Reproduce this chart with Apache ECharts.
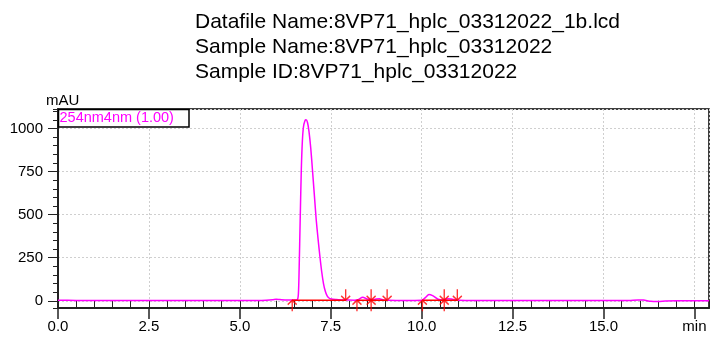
<!DOCTYPE html>
<html><head><meta charset="utf-8">
<script src="https://cdn.jsdelivr.net/npm/echarts@6/dist/echarts.min.js"></script>
<style>html,body{margin:0;padding:0;background:#fff}#c{width:714px;height:337px}</style>
</head><body><div id="c"></div>
<script>
const titleLines = ['Datafile Name:8VP71_hplc_03312022_1b.lcd', 'Sample Name:8VP71_hplc_03312022', 'Sample ID:8VP71_hplc_03312022'];
const seriesName = '254nm4nm (1.00)';
const yAxisName = 'mAU';
const timeMin = [0.0, 0.5, 1.0, 1.5, 2.0, 3.0, 4.0, 5.0, 5.6, 5.9, 6.0, 6.1, 6.3, 6.5, 6.58, 6.61, 6.63, 6.66, 6.69, 6.72, 6.75, 6.79, 6.82, 6.86, 6.90, 6.95, 7.00, 7.05, 7.10, 7.15, 7.20, 7.25, 7.30, 7.35, 7.40, 7.45, 7.52, 7.65, 7.8, 7.95, 8.15, 8.25, 8.38, 8.5, 8.62, 8.72, 8.84, 8.95, 9.1, 9.5, 10.0, 10.1, 10.2, 10.3, 10.45, 10.6, 10.72, 10.82, 10.95, 11.2, 12.0, 13.0, 14.0, 15.0, 15.7, 15.95, 16.1, 16.3, 16.5, 16.7, 17.0, 17.9];
const absorbance = [3, 2, 2, 1, 1, 1, 1, 1, 2, 6, 9, 7, 4, 4, 6, 40, 180, 480, 760, 930, 1010, 1045, 1050, 1035, 985, 885, 750, 610, 470, 360, 260, 170, 100, 55, 28, 16, 10, 7, 5, 4, 3, 6, 20, 10, 6, 9, 12, 5, 3, 2, 3, 18, 37, 30, 9, 5, 12, 10, 4, 2, 1, 1, 1, 1, 2, 5, 4, -3, -4, -1, 0, 0];
const peakStarts = [6.44, 8.22, 8.61, 10.02, 10.62];
const peakEnds = [7.91, 8.61, 9.05, 10.62, 10.98];
const markerLevel = 3;
const baselineStarts = [6.44, 8.22, 10.02];
const baselineEnds = [7.91, 9.05, 10.98];
const xTickLabels = ['0.0', '2.5', '5.0', '7.5', '10.0', '12.5', '15.0', 'min'];
const yTickLabels = ['0', '250', '500', '750', '1000'];

const FONT = '"Liberation Sans", Arial, sans-serif';
const lineData = timeMin.map((t, i) => [t, absorbance[i]]);
const baseData = [];
baselineStarts.forEach((s, i) => { baseData.push([s, markerLevel], [baselineEnds[i], markerLevel], [null, null]); });
const upArrow = 'path://M5 10 L5 0 M1 4 L5 0 L9 4';
const downArrow = 'path://M5 0 L5 10 M1 6 L5 10 L9 6';

const chart = echarts.init(document.getElementById('c'), null, {renderer: 'canvas'});
chart.setOption({
  animation: false,
  backgroundColor: '#fff',
  title: {
    text: titleLines.join('\n'), left: 195, top: 10, padding: 0,
    textStyle: {fontFamily: FONT, fontSize: 21, lineHeight: 25, fontWeight: 'normal', color: '#000'}
  },
  grid: {left: 58, right: 5, top: 109, bottom: 29, show: true, borderColor: '#000', borderWidth: 1.5, containLabel: false},
  xAxis: [{
    type: 'value', min: 0, max: 17.9, interval: 2.5,
    axisLine: {show: true, onZero: false, lineStyle: {color: '#222', width: 2}},
    axisTick: {show: true, length: 11, lineStyle: {color: '#222', width: 1.5}},
    axisLabel: {
      margin: 11, fontFamily: FONT, fontSize: 15, color: '#000', showMaxLabel: false,
      formatter: v => { const i = Math.round(v / 2.5); return Math.abs(v - i * 2.5) < 1e-6 && i < xTickLabels.length ? xTickLabels[i] : ''; }
    },
    splitLine: {show: true, lineStyle: {color: '#cfcfcf', type: [2, 2], width: 1}}
  }, {
    type: 'value', min: 0, max: 17.9, interval: 0.5, position: 'bottom', gridIndex: 0,
    axisLine: {show: false}, axisLabel: {show: false}, splitLine: {show: false},
    axisTick: {show: true, length: 7, lineStyle: {color: '#222', width: 1}}
  }],
  yAxis: [{
    type: 'value', min: -42, max: 1113, minInterval: 250, maxInterval: 250, splitNumber: 5,
    name: yAxisName, nameLocation: 'end', nameGap: 1,
    nameTextStyle: {fontFamily: FONT, fontSize: 15, color: '#000', align: 'left', padding: [0, 0, 0, -12]},
    axisLine: {show: true, onZero: false, lineStyle: {color: '#222', width: 2}},
    axisTick: {show: true, length: 10, lineStyle: {color: '#222', width: 1}},
    axisLabel: {
      margin: 15, fontFamily: FONT, fontSize: 15, color: '#000', showMinLabel: false, showMaxLabel: false,
      formatter: v => { const i = Math.round(v / 250); return Math.abs(v - i * 250) < 1e-6 && i >= 0 && i < yTickLabels.length ? yTickLabels[i] : ''; }
    },
    splitLine: {show: true, lineStyle: {color: '#cfcfcf', type: [2, 2], width: 1}}
  }, {
    type: 'value', min: -42, max: 1113, minInterval: 50, maxInterval: 50, splitNumber: 23, position: 'left',
    axisLine: {show: false}, axisLabel: {show: false}, splitLine: {show: false},
    axisTick: {show: true, length: 5, lineStyle: {color: '#222', width: 1}}
  }],
  series: [{
    name: seriesName, type: 'line', data: lineData, showSymbol: false, smooth: 0.25,
    lineStyle: {color: '#ff00ff', width: 1.5}, itemStyle: {color: '#ff00ff'}, z: 2
  }, {
    name: 'baseline', type: 'line', data: baseData, showSymbol: false, connectNulls: false,
    lineStyle: {color: '#ff0000', width: 1.5}, z: 3
  }, {
    name: 'start', type: 'scatter', data: peakStarts.map(t => [t, markerLevel]),
    symbol: upArrow, symbolSize: [9, 11], symbolOffset: [0, 5.5],
    itemStyle: {color: 'transparent', borderColor: '#ff0000', borderWidth: 1.5}, z: 4
  }, {
    name: 'end', type: 'scatter', data: peakEnds.map(t => [t, markerLevel]),
    symbol: downArrow, symbolSize: [9, 11], symbolOffset: [0, -5.5],
    itemStyle: {color: 'transparent', borderColor: '#ff0000', borderWidth: 1.5}, z: 4
  }],
  graphic: [{
    type: 'rect', shape: {x: 58.5, y: 109.5, width: 130.5, height: 17.5},
    style: {fill: '#fff', stroke: '#000', lineWidth: 1.5}, z: 100
  }, {
    type: 'text', x: 59.5, y: 110, z: 101,
    style: {text: seriesName, fill: '#ff00ff', font: '14.5px ' + FONT, verticalAlign: 'top'}
  }]
});
</script></body></html>
